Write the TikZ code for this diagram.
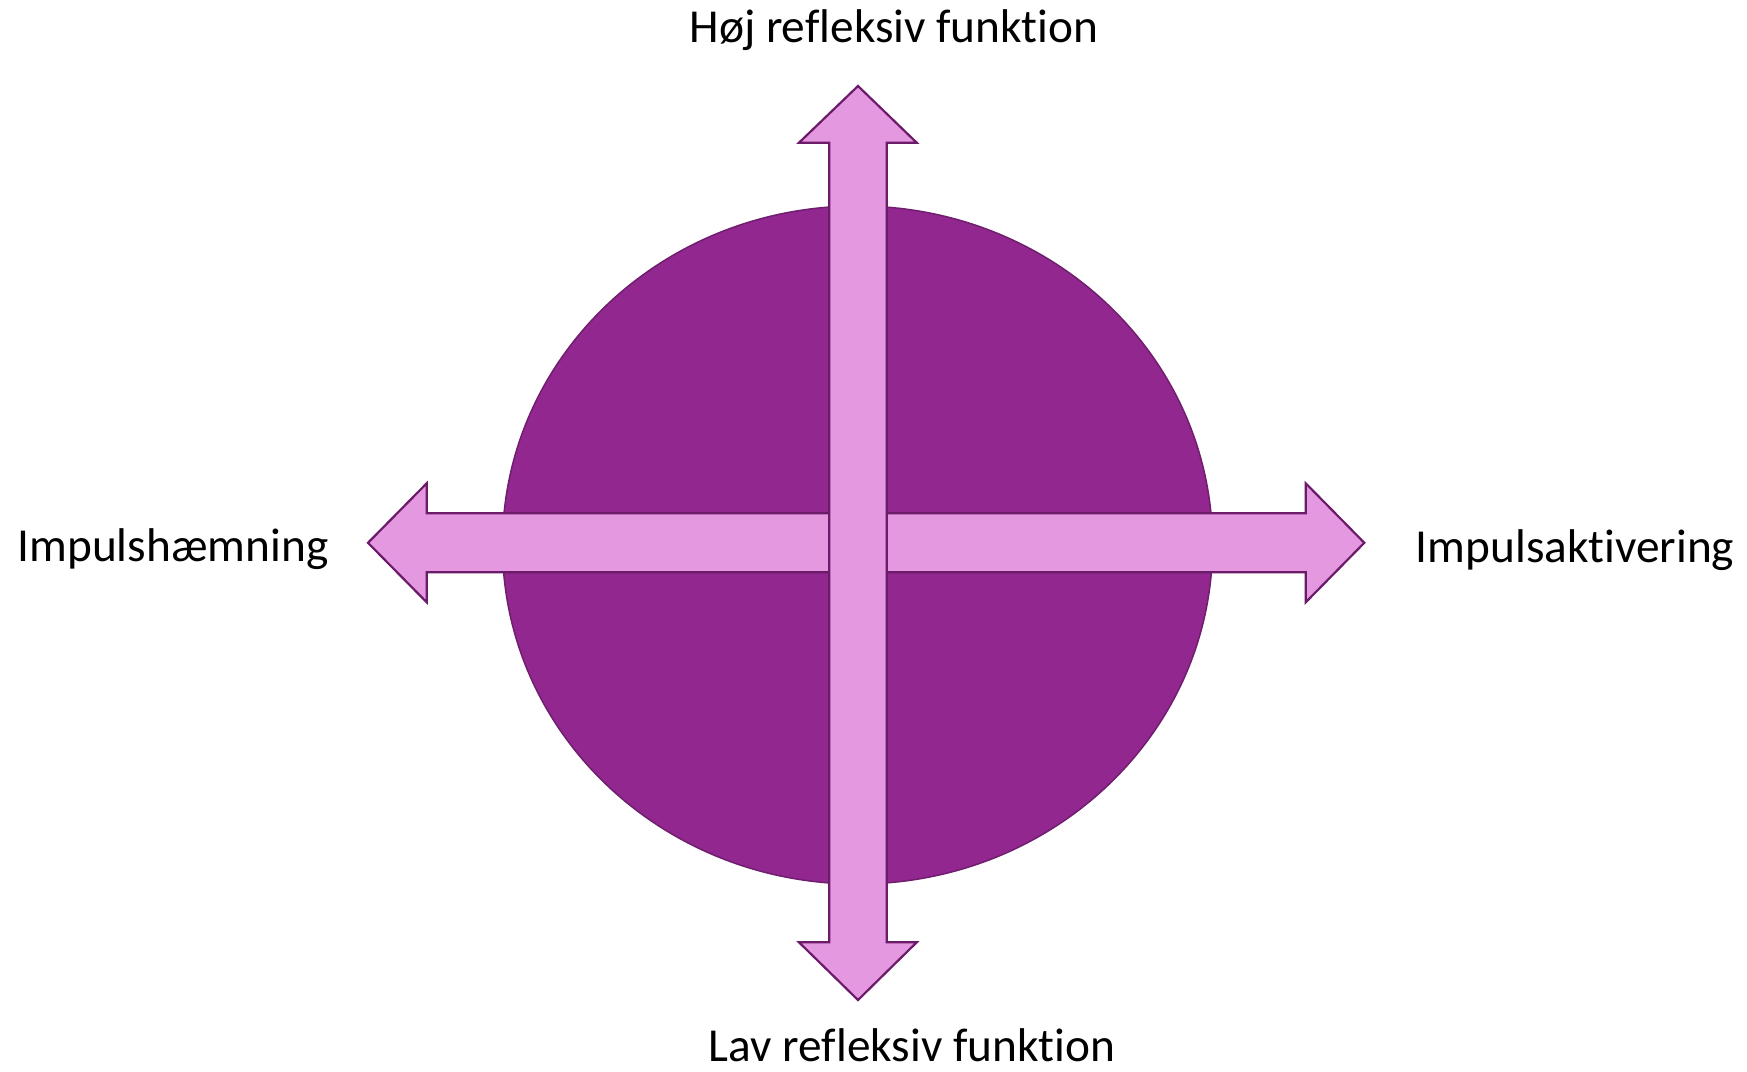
\documentclass[tikz,border=0pt]{standalone}
\usepackage{fontspec}
\setmainfont{Carlito}[Ligatures={NoCommon}]
\definecolor{ellfill}{RGB}{146,39,143}
\definecolor{ellline}{RGB}{112,30,110}
\definecolor{arrfill}{RGB}{227,152,224}
\definecolor{arrline}{RGB}{108,26,106}
\tikzset{
  blob/.style={fill=ellfill,draw=ellline,line width=1.5bp},
  blockarrow/.style={fill=arrfill,draw=arrline,line width=2.2bp,line join=miter},
  lbl/.style={font=\fontsize{47.5}{56}\selectfont,text=black,anchor=base,inner sep=0pt}
}
\begin{document}
\begin{tikzpicture}[x=1bp,y=-1bp]
\useasboundingbox (0,0) rectangle (1747,1071);
% ellipse
\draw[blob] (857.5,545) ellipse [x radius=355, y radius=339];
% horizontal double arrow
\draw[blockarrow] (368,542.8) -- (426.7,483.3) -- (426.7,513.3) -- (1305.7,513.3) -- (1305.7,483.3)
  -- (1364.3,542.8) -- (1305.7,602.3) -- (1305.7,572.3) -- (426.7,572.3) -- (426.7,602.3) -- cycle;
% vertical double arrow
\draw[blockarrow] (858,86) -- (916.7,142.7) -- (886.7,142.7) -- (886.7,942.3) -- (916.7,942.3)
  -- (858,1000) -- (799,942.3) -- (829.3,942.3) -- (829.3,142.7) -- (799,142.7) -- cycle;
% labels
\node[lbl] (top) at (894,42.5) {Høj refleksiv funktion};
\node[lbl] (bottom) at (912,1061.5) {Lav refleksiv funktion};
\node[lbl] (left) at (173,561) {Impulshæmning};
\node[lbl] (right) at (1575,562) {Impulsaktivering};
\end{tikzpicture}
\end{document}
